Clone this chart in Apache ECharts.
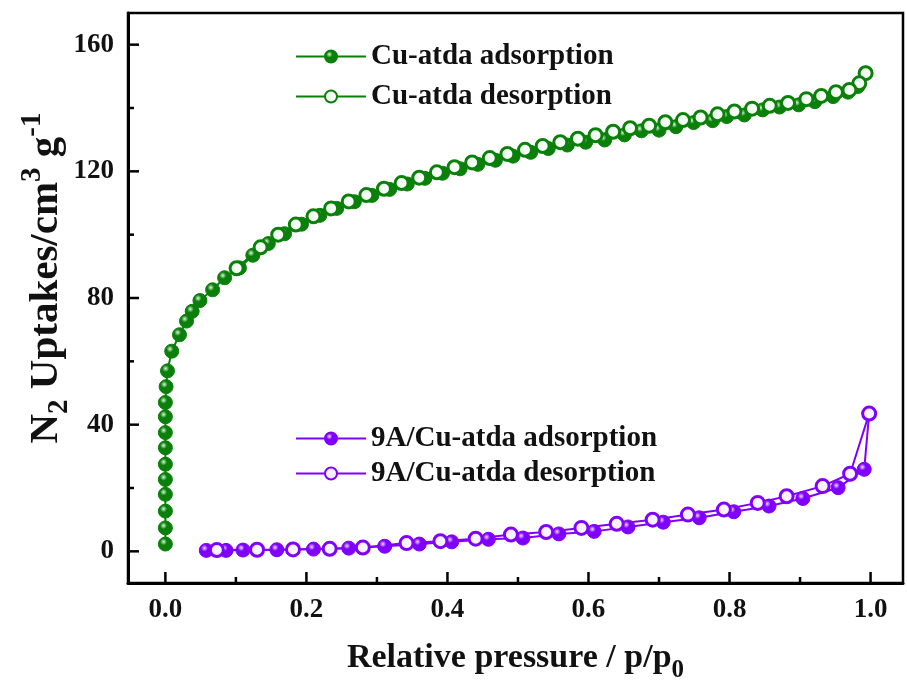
<!DOCTYPE html>
<html>
<head>
<meta charset="utf-8">
<script src="https://cdn.jsdelivr.net/npm/echarts@6/dist/echarts.min.js"></script>
<style>
  html, body { margin: 0; padding: 0; background: #fff; }
  #chart { width: 907px; height: 684px; }
</style>
</head>
<body>
<div id="chart"></div>
<script>
// relative pressure p/p0 and uptake (cm3/g)
const cuAdsP = [0.000, 0.000, 0.000, 0.000, 0.000, 0.000, 0.000, 0.000, 0.000, 0.000, 0.001, 0.003,
    0.009, 0.020, 0.030, 0.038, 0.049, 0.067, 0.084, 0.105, 0.124, 0.146, 0.169, 0.193, 0.219,
    0.243, 0.268, 0.293, 0.318, 0.343, 0.368, 0.393, 0.418, 0.443, 0.468, 0.493, 0.518, 0.543,
    0.570, 0.596, 0.623, 0.651, 0.675, 0.700, 0.724, 0.749, 0.776, 0.796, 0.821, 0.847, 0.871,
    0.898, 0.921, 0.947, 0.968, 0.982, 0.993];
const cuAdsQ = [2.3, 7.4, 12.7, 18.0, 22.7, 27.5, 32.7, 37.5, 42.5, 47.0, 52.0, 57.0,
    63.2, 68.4, 72.7, 75.8, 79.2, 82.6, 86.4, 89.5, 93.5, 97.2, 100.3, 103.3, 106.1,
    108.3, 110.4, 112.4, 114.3, 116.0, 117.8, 119.4, 120.8, 122.2, 123.5, 124.8, 126.0, 127.2,
    128.3, 129.2, 129.9, 131.5, 132.8, 133.0, 134.1, 135.4, 136.0, 137.3, 137.8, 139.4, 140.3,
    141.0, 142.0, 143.6, 145.0, 146.8, 151.0];

const cuDesP = [0.993, 0.984, 0.970, 0.951, 0.930, 0.909, 0.883, 0.857, 0.832, 0.807, 0.783,
    0.759, 0.734, 0.709, 0.686, 0.659, 0.635, 0.610, 0.585, 0.560, 0.535, 0.510, 0.485, 0.460,
    0.435, 0.410, 0.385, 0.360, 0.335, 0.310, 0.285, 0.260, 0.235, 0.210, 0.185, 0.160, 0.135, 0.101];
const cuDesQ = [151.0, 147.8, 145.7, 145.0, 143.8, 142.8, 141.6, 140.7, 139.8, 138.9, 138.0,
    137.0, 136.2, 135.5, 134.4, 133.6, 132.5, 131.4, 130.3, 129.2, 128.0, 126.8, 125.5, 124.2,
    122.8, 121.3, 119.7, 118.0, 116.3, 114.5, 112.5, 110.5, 108.3, 105.8, 103.2, 100.0, 96.0, 89.4];

const a9AdsP = [0.058, 0.086, 0.110, 0.158, 0.210, 0.260, 0.311, 0.360, 0.406, 0.458, 0.507,
    0.558, 0.608, 0.656, 0.706, 0.757, 0.806, 0.856, 0.904, 0.954, 0.991, 0.998];
const a9AdsQ = [0.3, 0.3, 0.4, 0.5, 0.7, 1.0, 1.6, 2.3, 3.0, 3.8, 4.2,
    5.5, 6.3, 7.7, 9.2, 10.6, 12.5, 14.3, 16.7, 20.1, 25.9, 43.5];

const a9DesP = [0.998, 0.971, 0.932, 0.881, 0.840, 0.792, 0.741, 0.691, 0.640, 0.590, 0.540,
    0.490, 0.440, 0.390, 0.342, 0.280, 0.233, 0.181, 0.130, 0.073];
const a9DesQ = [43.5, 24.5, 20.6, 17.4, 15.3, 13.2, 11.6, 10.0, 8.7, 7.4, 6.1,
    5.3, 4.0, 3.2, 2.6, 1.2, 0.8, 0.6, 0.5, 0.4];

const seriesNames = ['Cu-atda adsorption', 'Cu-atda desorption', '9A/Cu-atda adsorption', '9A/Cu-atda desorption'];

const xTicks = [0, 0.2, 0.4, 0.6, 0.8, 1.0];
const xMinorTicks = [0.1, 0.3, 0.5, 0.7, 0.9];
const yTicks = [0, 40, 80, 120, 160];
const yMinorTicks = [20, 60, 100, 140];

const FONT = '"Liberation Serif", "Times New Roman", serif';
const GREEN = '#0a800a';
const PURPLE = '#8000ff';
const X_MIN = -0.053, X_MAX = 1.046;
const Y_MIN = -10, Y_MAX = 170;

function pairs(px, qy) {
    return px.map((p, i) => [p, qy[i]]);
}

function ball(dark, light) {
    return new echarts.graphic.RadialGradient(0.38, 0.35, 0.65, [
        { offset: 0, color: light },
        { offset: 0.35, color: dark },
        { offset: 1, color: dark }
    ]);
}

function filledSeries(name, data, color, light) {
    return {
        name: name,
        type: 'line',
        data: data,
        symbol: 'circle',
        symbolSize: 14,
        showAllSymbol: true,
        lineStyle: { color: color, width: 2 },
        itemStyle: { color: ball(color, light), borderColor: color, borderWidth: 1 },
        emphasis: { disabled: true },
        animation: false
    };
}

function openSeries(name, data, color, inner) {
    return {
        name: name,
        type: 'line',
        data: data,
        symbol: 'circle',
        symbolSize: 13,
        showAllSymbol: true,
        lineStyle: { color: color, width: 2 },
        itemStyle: { color: inner, borderColor: color, borderWidth: 3 },
        emphasis: { disabled: true },
        animation: false
    };
}

// inside tick marks as a custom series: [x, y, direction (0 = up, 1 = right), length]
function tickSeries() {
    const data = [];
    xTicks.forEach(v => data.push([v, Y_MIN, 0, 11]));
    xMinorTicks.forEach(v => data.push([v, Y_MIN, 0, 6]));
    yTicks.forEach(v => data.push([X_MIN, v, 1, 11]));
    yMinorTicks.forEach(v => data.push([X_MIN, v, 1, 6]));
    return {
        type: 'custom',
        coordinateSystem: 'cartesian2d',
        clip: false,
        silent: true,
        z: 50,
        encode: { x: 0, y: 1 },
        data: data,
        renderItem: (params, api) => {
            const p = api.coord([api.value(0), api.value(1)]);
            const len = api.value(3);
            const end = api.value(2) === 0 ? [p[0], p[1] - len] : [p[0] + len, p[1]];
            return {
                type: 'line',
                shape: { x1: p[0], y1: p[1], x2: end[0], y2: end[1] },
                style: { stroke: '#000', lineWidth: 2.5 }
            };
        },
        animation: false
    };
}

const chart = echarts.init(document.getElementById('chart'));

const axisText = { color: '#111', fontFamily: FONT, fontWeight: 'bold', fontSize: 27 };
function nameText(size, small, shift, pad) {
    return {
        color: '#111', fontFamily: FONT, fontWeight: 'bold', fontSize: size,
        padding: pad || 0,
        rich: {
            sub: { fontFamily: FONT, fontWeight: 'bold', fontSize: small, color: '#111', padding: [shift, 0, 0, 0] },
            sup: { fontFamily: FONT, fontWeight: 'bold', fontSize: small, color: '#111', padding: [0, 0, shift, 0] }
        }
    };
}
const legendText = { color: '#111', fontFamily: FONT, fontWeight: 'bold', fontSize: 29 };

const option = {
    backgroundColor: '#fff',
    animation: false,
    grid: {
        left: 128, right: 4, top: 13, bottom: 101,
        outerBoundsMode: 'none',
        containLabel: false,
        show: true, borderColor: '#000', borderWidth: 2.5
    },
    legend: [{
        data: seriesNames.slice(0, 2),
        orient: 'vertical',
        left: 290, top: 37,
        itemWidth: 70, itemHeight: 15, itemGap: 11,
        textStyle: legendText,
        selectedMode: false
    }, {
        data: seriesNames.slice(2),
        orient: 'vertical',
        left: 290, top: 419,
        itemWidth: 70, itemHeight: 15, itemGap: 6,
        textStyle: legendText,
        selectedMode: false
    }],
    xAxis: {
        type: 'value',
        min: X_MIN, max: X_MAX,
        position: 'bottom',
        name: 'Relative pressure / p/p{sub|0}',
        nameLocation: 'middle',
        nameGap: 51,
        nameMoveOverlap: false,
        nameTextStyle: nameText(34, 25, 24),
        axisLine: { show: true, onZero: false, lineStyle: { color: '#000', width: 3 } },
        axisTick: { show: false },
        minorTick: { show: false },
        axisLabel: { show: true, margin: 14, customValues: xTicks, formatter: v => v.toFixed(1), ...axisText },
        splitLine: { show: false }
    },
    yAxis: {
        type: 'value',
        min: Y_MIN, max: Y_MAX,
        position: 'left',
        name: 'N{sub|2} Uptakes/cm{sup|3} g{sup|-1}',
        nameLocation: 'middle',
        nameRotate: 90,
        nameGap: 54,
        nameMoveOverlap: false,
        nameTextStyle: nameText(41, 29, 27, [0, 0, 0, 40]),
        axisLine: { show: true, onZero: false, lineStyle: { color: '#000', width: 3 } },
        axisTick: { show: false },
        minorTick: { show: false },
        axisLabel: { show: true, margin: 14, customValues: yTicks, ...axisText },
        splitLine: { show: false }
    },
    series: [
        filledSeries(seriesNames[0], pairs(cuAdsP, cuAdsQ), GREEN, '#d8f5d8'),
        openSeries(seriesNames[1], pairs(cuDesP, cuDesQ), GREEN, '#f2fff2'),
        filledSeries(seriesNames[2], pairs(a9AdsP, a9AdsQ), PURPLE, '#f0d8ff'),
        openSeries(seriesNames[3], pairs(a9DesP, a9DesQ), PURPLE, '#fbf2ff'),
        tickSeries()
    ]
};

chart.setOption(option);
</script>
</body>
</html>
